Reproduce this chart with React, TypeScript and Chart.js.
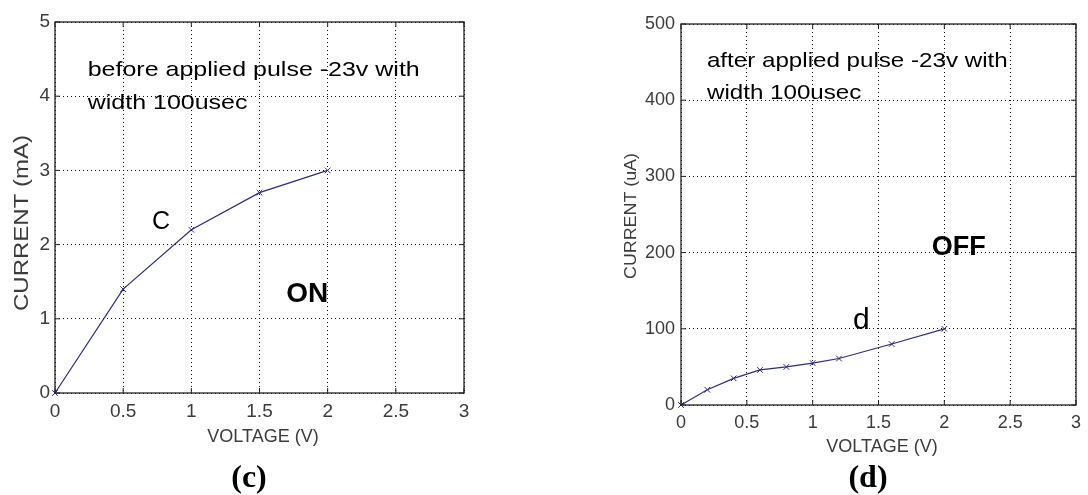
import React, { useEffect, useRef } from "react";
import { Chart, registerables } from "chart.js";

Chart.register(...registerables);

// ---------- data ----------
const voltageTicks = [0, 0.5, 1, 1.5, 2, 2.5, 3];

const onVoltage = [0, 0.5, 1, 1.5, 2];
const onCurrentMA = [0, 1.4, 2.2, 2.7, 3.0];
const onCurrentTicks = [0, 1, 2, 3, 4, 5];

const offVoltage = [0, 0.2, 0.4, 0.6, 0.8, 1.0, 1.2, 1.6, 2.0];
const offCurrentUA = [0, 20, 35, 46, 50, 55, 61, 80, 100];
const offCurrentTicks = [0, 100, 200, 300, 400, 500];

const onNote = ["before applied pulse -23v with", "width 100usec"];
const offNote = ["after applied pulse -23v with", "width 100usec"];

const SANS = "'Liberation Sans', Arial, Helvetica, sans-serif";
const SERIF = "'Liberation Serif', 'Times New Roman', serif";
const LINE_COLOR = "#2e2e78";
const TICK_COLOR = "#3c3c3c";

type Txt = {
  text: string;
  x: number;
  y: number;
  data?: boolean;
  font: string;
  sx?: number;
  rot?: number;
  align?: CanvasTextAlign;
  baseline?: CanvasTextBaseline;
  color?: string;
};

type PanelCfg = {
  width: number;
  xs: number[];
  ys: number[];
  yTicks: number[];
  yMax: number;
  yAxisWidth: number;
  padding: { left: number; top: number; right: number; bottom: number };
  yTickPadding: number;
  tickFontSize: number;
  texts: Txt[];
};

const framePlugin = {
  id: "matlabFrame",
  afterDraw(chart: any) {
    const { ctx, chartArea } = chart;
    const { left, right, top, bottom } = chartArea;
    const xs = chart.scales.x;
    const ys = chart.scales.y;
    ctx.save();
    ctx.strokeStyle = "#222";
    ctx.lineWidth = 1.3;
    ctx.strokeRect(left, top, right - left, bottom - top);
    ctx.lineWidth = 1;
    ctx.beginPath();
    for (const t of xs.ticks) {
      const px = xs.getPixelForValue(t.value);
      ctx.moveTo(px, bottom);
      ctx.lineTo(px, bottom - 5);
      ctx.moveTo(px, top);
      ctx.lineTo(px, top + 5);
    }
    for (const t of ys.ticks) {
      const py = ys.getPixelForValue(t.value);
      ctx.moveTo(left, py);
      ctx.lineTo(left + 5, py);
      ctx.moveTo(right, py);
      ctx.lineTo(right - 5, py);
    }
    ctx.stroke();
    ctx.restore();
  },
};

const textPlugin = {
  id: "panelTexts",
  afterDraw(chart: any, _args: any, opts: any) {
    const { ctx } = chart;
    const items: Txt[] = opts.items || [];
    for (const it of items) {
      let px = it.x;
      let py = it.y;
      if (it.data) {
        px = chart.scales.x.getPixelForValue(it.x);
        py = chart.scales.y.getPixelForValue(it.y);
      }
      ctx.save();
      ctx.translate(px, py);
      if (it.rot) ctx.rotate(it.rot);
      ctx.scale(it.sx ?? 1, 1);
      ctx.font = it.font;
      ctx.fillStyle = it.color ?? "#000";
      ctx.textAlign = it.align ?? "left";
      ctx.textBaseline = it.baseline ?? "alphabetic";
      ctx.fillText(it.text, 0, 0);
      ctx.restore();
    }
  },
};

function buildConfig(cfg: PanelCfg): any {
  return {
    type: "line",
    data: {
      datasets: [
        {
          data: cfg.xs.map((v, i) => ({ x: v, y: cfg.ys[i] })),
          borderColor: LINE_COLOR,
          backgroundColor: LINE_COLOR,
          borderWidth: 1.2,
          pointStyle: "crossRot",
          pointRadius: 4,
          pointBorderWidth: 1,
          pointBorderColor: LINE_COLOR,
          tension: 0,
          fill: false,
          clip: false,
        },
      ],
    },
    options: {
      animation: false,
      responsive: false,
      events: [],
      layout: { padding: cfg.padding },
      plugins: {
        legend: { display: false },
        tooltip: { enabled: false },
        panelTexts: { items: cfg.texts },
      },
      scales: {
        x: {
          type: "linear",
          min: 0,
          max: 3,
          afterBuildTicks: (s: any) => {
            s.ticks = voltageTicks.map((v) => ({ value: v }));
          },
          afterFit: (s: any) => {
            s.height = 60;
          },
          grid: { color: "#111", lineWidth: 1, drawTicks: false },
          border: { display: false, dash: [1, 3] },
          ticks: {
            color: TICK_COLOR,
            font: { family: SANS, size: cfg.tickFontSize },
            padding: 7,
            maxRotation: 0,
            autoSkip: false,
            callback: (v: any) => String(v),
          },
        },
        y: {
          type: "linear",
          min: 0,
          max: cfg.yMax,
          afterBuildTicks: (s: any) => {
            s.ticks = cfg.yTicks.map((v) => ({ value: v }));
          },
          afterFit: (s: any) => {
            s.width = cfg.yAxisWidth;
          },
          grid: { color: "#111", lineWidth: 1, drawTicks: false },
          border: { display: false, dash: [1, 3] },
          ticks: {
            color: TICK_COLOR,
            font: { family: SANS, size: cfg.tickFontSize },
            padding: cfg.yTickPadding,
            autoSkip: false,
            callback: (v: any) => String(v),
          },
        },
      },
    },
    plugins: [framePlugin, textPlugin],
  };
}

function Panel({ cfg, left }: { cfg: PanelCfg; left: number }) {
  const ref = useRef<HTMLCanvasElement>(null);
  useEffect(() => {
    const chart = new Chart(ref.current as HTMLCanvasElement, buildConfig(cfg));
    return () => chart.destroy();
  }, []);
  return (
    <canvas
      ref={ref}
      width={cfg.width}
      height={495}
      style={{ position: "absolute", left, top: 0, width: cfg.width, height: 495, display: "block" }}
    />
  );
}

const onPanel: PanelCfg = {
  width: 544,
  xs: onVoltage,
  ys: onCurrentMA,
  yTicks: onCurrentTicks,
  yMax: 5,
  yAxisWidth: 55,
  padding: { left: 0, top: 22, right: 80, bottom: 42 },
  yTickPadding: 5,
  tickFontSize: 19,
  texts: [
    { text: onNote[0], x: 0.24, y: 4.27, data: true, font: `21px ${SANS}`, sx: 1.19 },
    { text: onNote[1], x: 0.24, y: 3.83, data: true, font: `21px ${SANS}`, sx: 1.19 },
    { text: "C", x: 0.778, y: 2.3, data: true, font: `25px ${SANS}`, align: "center", baseline: "middle" },
    { text: "ON", x: 1.85, y: 1.33, data: true, font: `bold 28px ${SANS}`, align: "center", baseline: "middle" },
    { text: "VOLTAGE (V)", x: 263, y: 437, font: `18px ${SANS}`, align: "center", baseline: "middle", color: TICK_COLOR },
    { text: "CURRENT (mA)", x: 22, y: 223, rot: -Math.PI / 2, sx: 1.2, font: `20px ${SANS}`, align: "center", baseline: "middle", color: TICK_COLOR },
    { text: "(c)", x: 249, y: 487, font: `bold 32px ${SERIF}`, align: "center" },
  ],
};

const offPanel: PanelCfg = {
  width: 488,
  xs: offVoltage,
  ys: offCurrentUA,
  yTicks: offCurrentTicks,
  yMax: 500,
  yAxisWidth: 81,
  padding: { left: 0, top: 24, right: 10, bottom: 30 },
  yTickPadding: 6,
  tickFontSize: 18,
  texts: [
    { text: offNote[0], x: 0.197, y: 443, data: true, font: `21px ${SANS}`, sx: 1.15 },
    { text: offNote[1], x: 0.197, y: 402, data: true, font: `21px ${SANS}`, sx: 1.15 },
    { text: "d", x: 1.37, y: 110, data: true, font: `30px ${SANS}`, align: "center", baseline: "middle" },
    { text: "OFF", x: 2.11, y: 207, data: true, font: `bold 27px ${SANS}`, align: "center", baseline: "middle" },
    { text: "VOLTAGE (V)", x: 282, y: 447, font: `18px ${SANS}`, align: "center", baseline: "middle", color: TICK_COLOR },
    { text: "CURRENT (uA)", x: 31, y: 216, rot: -Math.PI / 2, sx: 1.05, font: `17px ${SANS}`, align: "center", baseline: "middle", color: TICK_COLOR },
    { text: "(d)", x: 268, y: 487, font: `bold 32px ${SERIF}`, align: "center" },
  ],
};

export default function App() {
  return (
    <div
      style={{
        position: "absolute",
        left: 0,
        top: 0,
        width: 1088,
        height: 495,
        background: "#fff",
        overflow: "hidden",
      }}
    >
      <Panel cfg={onPanel} left={0} />
      <Panel cfg={offPanel} left={600} />
    </div>
  );
}
